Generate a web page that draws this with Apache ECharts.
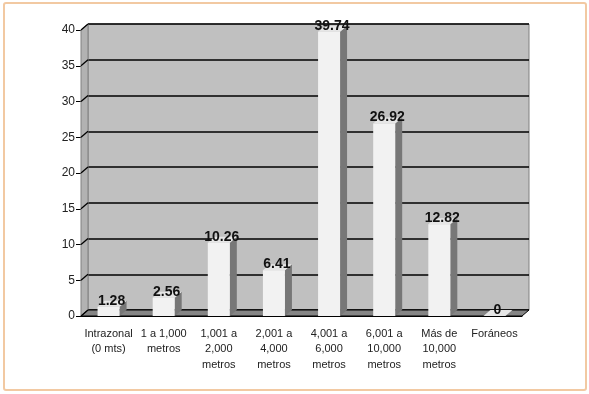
<!DOCTYPE html>
<html>
<head>
<meta charset="utf-8">
<script src="https://cdn.jsdelivr.net/npm/echarts@6/dist/echarts.min.js"></script>
<style>
  html, body { margin: 0; padding: 0; background: #fff; }
  #chart { width: 589px; height: 394px; }
</style>
</head>
<body>
<div id="chart"></div>
<script>
// datos de la grafica
const categories = ['Intrazonal\n(0 mts)', '1 a 1,000\nmetros', '1,001 a\n2,000\nmetros', '2,001 a\n4,000\nmetros',
  '4,001 a\n6,000\nmetros', '6,001 a\n10,000\nmetros', 'Más de\n10,000\nmetros', 'Foráneos'];
const values = [1.28, 2.56, 10.26, 6.41, 39.74, 26.92, 12.82, 0];
const yTicks = [0, 5, 10, 15, 20, 25, 30, 35, 40];

const font = 'Liberation Sans, Arial, sans-serif';
const DX = 7, DY = -6, HALF = 11;

const chart = echarts.init(document.getElementById('chart'));

const option = {
  animation: false,
  textStyle: { fontFamily: font },
  graphic: [{
    type: 'rect',
    shape: { x: 4, y: 3, width: 582, height: 387, r: 2 },
    style: { fill: 'none', stroke: '#f2c9a2', lineWidth: 2 }
  }],
  grid: [
    // pared del fondo
    { left: 88, top: 24, width: 441, height: 286, show: true, backgroundColor: '#c0c0c0', borderColor: '#808080', borderWidth: 1 },
    // plano frontal (ejes)
    { left: 81, top: 30, width: 441, height: 286 }
  ],
  xAxis: [
    { gridIndex: 0, type: 'category', data: categories, show: false },
    {
      gridIndex: 1, type: 'category', data: categories,
      axisLine: { lineStyle: { color: '#000', width: 1 } },
      axisTick: { length: 4, lineStyle: { color: '#000' } },
      axisLabel: { color: '#222', fontSize: 11, lineHeight: 15.5, margin: 10, interval: 0, fontFamily: font }
    }
  ],
  yAxis: [
    {
      gridIndex: 0, type: 'value', min: 0, max: 40, interval: 5,
      axisLine: { show: false }, axisTick: { show: false }, axisLabel: { show: false },
      splitLine: { lineStyle: { color: '#000', width: 1.5 } }
    },
    {
      gridIndex: 1, type: 'value', min: 0, max: 40, interval: 5,
      axisLine: { show: true, lineStyle: { color: '#000', width: 1 } },
      axisTick: { show: true, length: 5, lineStyle: { color: '#000' } },
      axisLabel: { color: '#222', fontSize: 12, margin: 6, fontFamily: font },
      splitLine: { show: false }
    }
  ],
  series: [
    {
      // pared lateral y piso
      type: 'custom', xAxisIndex: 1, yAxisIndex: 1, z: 1, silent: true,
      data: [[0, 0]],
      renderItem: function (params, api) {
        const cs = params.coordSys;
        const bottom = cs.y + cs.height;
        const children = [
          {
            type: 'polygon',
            shape: { points: [[cs.x, cs.y], [cs.x + DX, cs.y + DY], [cs.x + DX, bottom + DY], [cs.x, bottom]] },
            style: { fill: '#b2b2b2', stroke: '#808080', lineWidth: 1 }
          },
          {
            type: 'polygon',
            shape: { points: [[cs.x, bottom], [cs.x + DX, bottom + DY], [cs.x + cs.width + DX, bottom + DY], [cs.x + cs.width, bottom]] },
            style: { fill: '#858585', stroke: '#000', lineWidth: 1 }
          }
        ];
        yTicks.forEach(function (t) {
          const y = api.coord([0, t])[1];
          children.push({
            type: 'line',
            shape: { x1: cs.x, y1: y, x2: cs.x + DX, y2: y + DY },
            style: { stroke: '#000', lineWidth: 1.3 }
          });
        });
        return { type: 'group', children: children };
      }
    },
    {
      // caras laterales y superiores de las barras
      type: 'custom', xAxisIndex: 1, yAxisIndex: 1, z: 2, silent: true,
      data: values.map(function (v, i) { return [i, v]; }),
      encode: { x: 0, y: 1 },
      renderItem: function (params, api) {
        const top = api.coord([api.value(0), api.value(1)]);
        const base = api.coord([api.value(0), 0]);
        const x0 = top[0] - HALF, x1 = top[0] + HALF;
        return {
          type: 'group',
          children: [
            {
              type: 'polygon',
              shape: { points: [[x1, top[1]], [x1 + DX, top[1] + DY], [x1 + DX, base[1] + DY], [x1, base[1]]] },
              style: { fill: '#777777' }
            },
            {
              type: 'polygon',
              shape: { points: [[x0, top[1]], [x0 + DX, top[1] + DY], [x1 + DX, top[1] + DY], [x1, top[1]]] },
              style: { fill: '#e6e6e6' }
            }
          ]
        };
      }
    },
    {
      type: 'bar', xAxisIndex: 1, yAxisIndex: 1, z: 3,
      data: values,
      barWidth: HALF * 2,
      itemStyle: { color: '#f2f2f2' },
      label: {
        show: true, position: 'top', distance: 0, offset: [3, 1],
        fontSize: 14, fontWeight: 'bold', color: '#111', fontFamily: font
      }
    }
  ]
};

chart.setOption(option);
</script>
</body>
</html>
